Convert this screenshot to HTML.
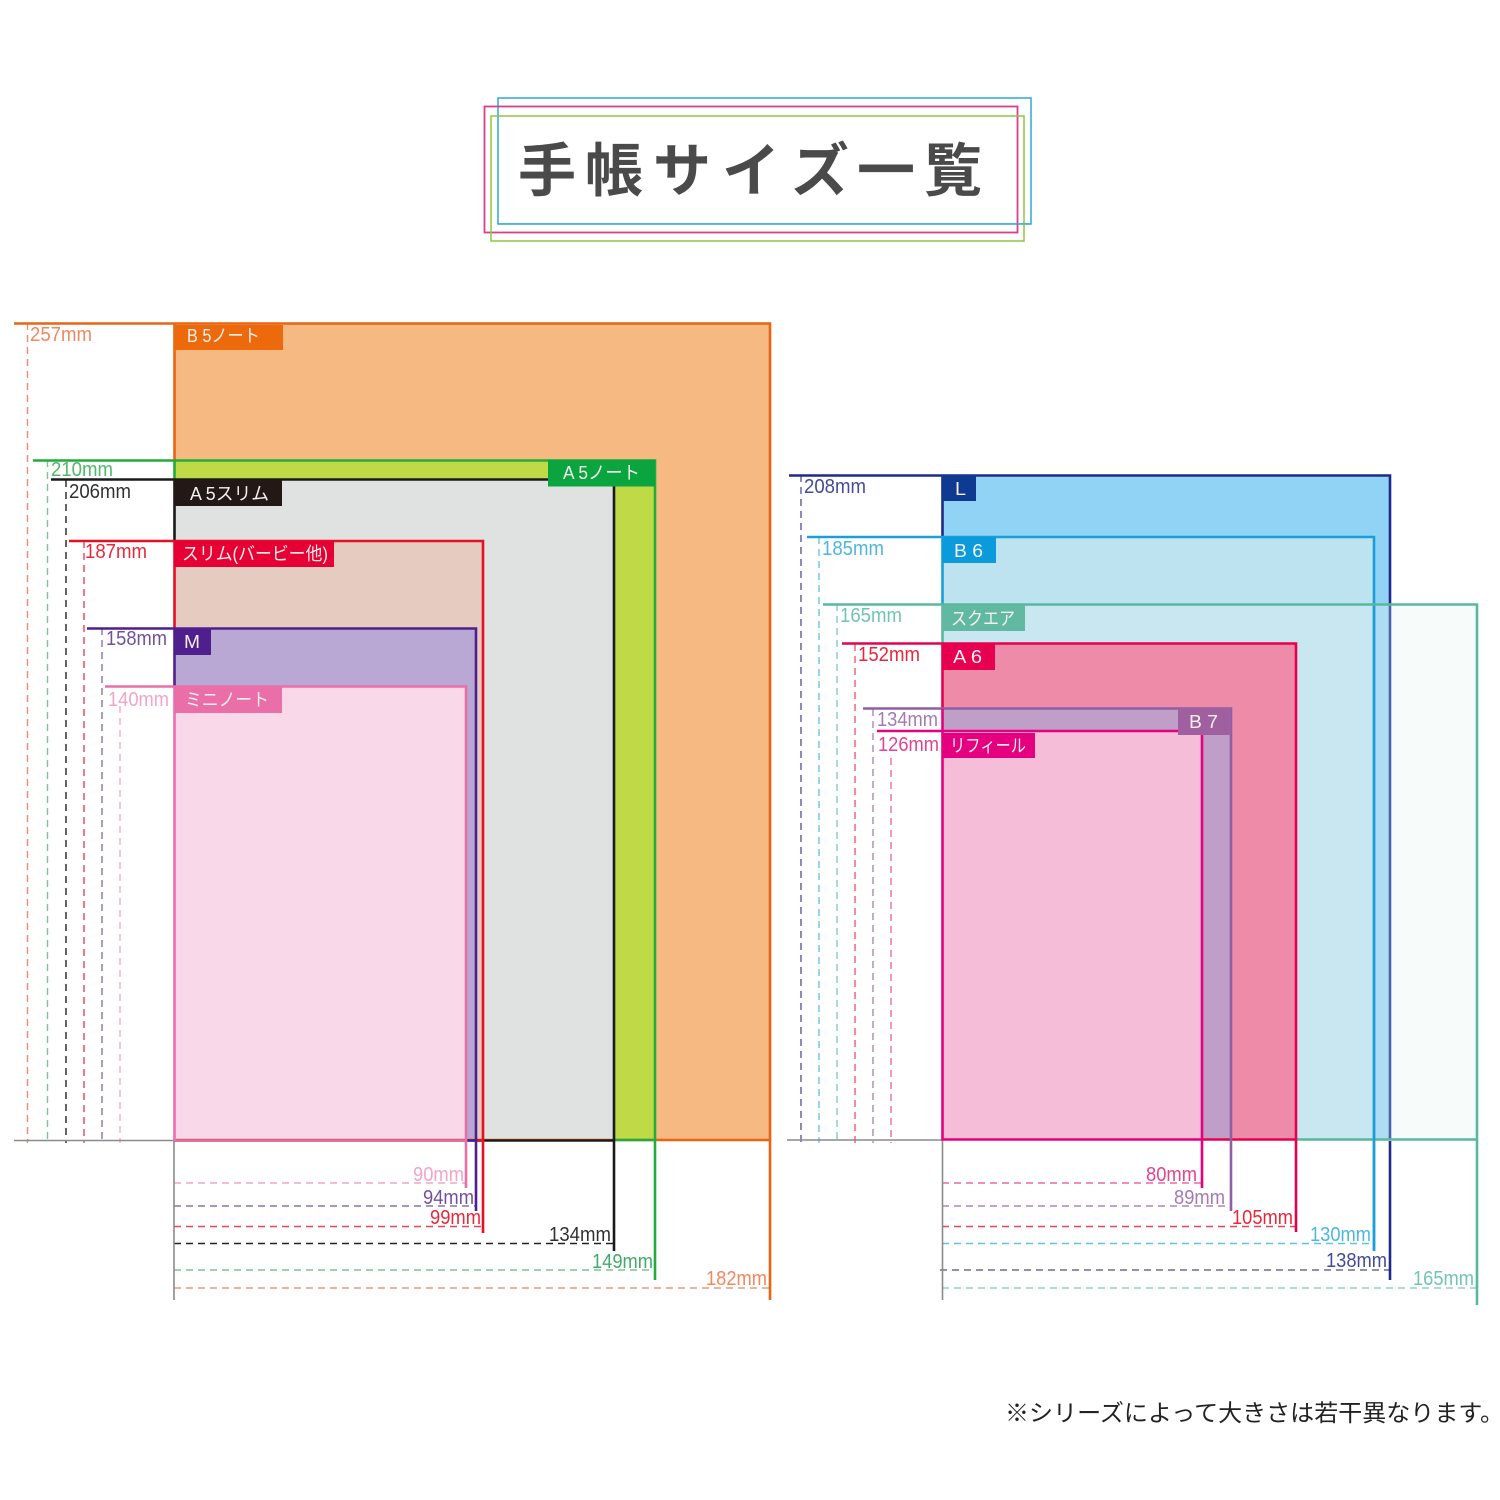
<!DOCTYPE html>
<html lang="ja"><head><meta charset="utf-8"><title>手帳サイズ一覧</title>
<style>
html,body{margin:0;padding:0;background:#fff}
svg{display:block}
text{font-family:"Liberation Sans","Noto Sans CJK JP",sans-serif}
.m{font-size:20.500px;fill-opacity:.9}
.l{font-size:18px;fill:#f5f0ee}
.d{stroke-width:1.4;stroke-dasharray:7 5;fill:none}
.s{stroke-width:2.6;fill:none}
</style></head><body>
<svg xmlns="http://www.w3.org/2000/svg" width="1500" height="1500" viewBox="0 0 1500 1500">
<rect width="1500" height="1500" fill="#fff"/>

<!-- Title -->
<rect x="498" y="98" width="533" height="126" fill="none" stroke="#2fa9d6" stroke-width="1.500"/>
<rect x="484.500" y="106.500" width="533" height="126" fill="none" stroke="#d6408c" stroke-width="1.800"/>
<rect x="491" y="116" width="533" height="125" fill="none" stroke="#8fc63f" stroke-width="1.500"/>
<rect x="498" y="223.300" width="533" height="1" fill="#2fa9d6"/>
<text x="518 585 653 722 791 857 924" y="191" font-size="58" font-weight="700" fill="#4a4a4a">手帳サイズ一覧</text>

<!-- Left group fills -->
<rect x="174.500" y="323.500" width="595" height="816.500" fill="#f6b981"/>
<rect x="174.500" y="460" width="480" height="680" fill="#c0d947"/>
<rect x="174.500" y="479.500" width="439.500" height="660.500" fill="#e0e1e1"/>
<rect x="174.500" y="541" width="308.500" height="599" fill="#e6cbc0"/>
<rect x="174.500" y="628.500" width="301.500" height="511.500" fill="#b9a8d3"/>
<rect x="174.500" y="686.500" width="291.500" height="453.500" fill="#f9d9e9"/>

<!-- Left dashed verticals -->
<path class="d" stroke="#ef8d6a" d="M27.500 323V1143"/>
<path class="d" stroke="#7fc48f" d="M47.500 460V1143"/>
<path class="d" stroke="#222" d="M66 480V1143"/>
<path class="d" stroke="#e8455c" d="M84 541V1143"/>
<path class="d" stroke="#8a72b0" d="M102 628V1143"/>
<path class="d" stroke="#f4aacb" d="M120 706V1143"/>

<!-- Left dashed horizontals -->
<path class="d" stroke="#f4a6c8" d="M174 1183H466"/>
<path class="d" stroke="#8a72b0" d="M174 1206H476"/>
<path class="d" stroke="#e8455c" d="M174 1226.500H483"/>
<path class="d" stroke="#222" d="M174 1243.500H614"/>
<path class="d" stroke="#7fc48f" d="M174 1270H655"/>
<path class="d" stroke="#eb9c78" d="M174 1288H770"/>

<!-- Left baseline -->
<path d="M14 1140.500H174M174 1140V1300" stroke="#8a8a8a" stroke-width="1.600" fill="none"/>

<!-- Left strokes -->
<path class="s" stroke="#ea6413" d="M14 323.500H770V1300M174.500 323.500V460M174 1140H770"/>
<path class="s" stroke="#22ac38" d="M33 460.500H655V1280M174.500 460V480M614 1140H655"/>
<path class="s" stroke="#1a1a1a" d="M51 479.500H614V1251M174.500 480V541M174 1140.500H614"/>
<path class="s" stroke="#e60f25" d="M69 541H483V1233M174.500 541V628M476 1140.500H483"/>
<path class="s" stroke="#4f1f8d" d="M87 628.500H476V1211M174.500 628V686M466 1140.500H476"/>
<path class="s" stroke="#ec6ea8" d="M105 686.500H466V1188M174.500 686V1140.500H466"/>

<!-- Left labels -->
<rect x="174" y="325" width="109" height="25" fill="#ec6a0c"/>
<text class="l" x="187" y="342" textLength="73" lengthAdjust="spacingAndGlyphs">B 5ノート</text>
<rect x="548" y="459.500" width="107" height="27" fill="#0ba540"/>
<text class="l" x="563" y="479" textLength="77" lengthAdjust="spacingAndGlyphs">A 5ノート</text>
<rect x="174" y="480" width="108" height="26" fill="#231815"/>
<text class="l" x="190" y="500" textLength="79" lengthAdjust="spacingAndGlyphs">A 5スリム</text>
<rect x="174" y="541" width="160" height="26" fill="#e60033"/>
<text class="l" x="182" y="560" textLength="146" lengthAdjust="spacingAndGlyphs">スリム(バービー他)</text>
<rect x="174" y="628" width="37" height="27" fill="#4f1f8d"/>
<text class="l" x="184" y="648" textLength="16" lengthAdjust="spacingAndGlyphs">M</text>
<rect x="174" y="687" width="108" height="26" fill="#ea6fa8"/>
<text class="l" x="185" y="706" textLength="84" lengthAdjust="spacingAndGlyphs">ミニノート</text>

<!-- Left mm labels -->
<text class="m" fill="#ef7a4d" x="30" y="341" textLength="62" lengthAdjust="spacingAndGlyphs">257mm</text>
<text class="m" fill="#3cb35a" x="51" y="476" textLength="62" lengthAdjust="spacingAndGlyphs">210mm</text>
<text class="m" fill="#1a1a1a" x="69" y="498" textLength="62" lengthAdjust="spacingAndGlyphs">206mm</text>
<text class="m" fill="#e60f25" x="85" y="558" textLength="62" lengthAdjust="spacingAndGlyphs">187mm</text>
<text class="m" fill="#5f3d97" x="106" y="645" textLength="61" lengthAdjust="spacingAndGlyphs">158mm</text>
<text class="m" fill="#f39ac0" x="108" y="706" textLength="61" lengthAdjust="spacingAndGlyphs">140mm</text>
<text class="m" fill="#f39ac0" x="413" y="1181" textLength="51" lengthAdjust="spacingAndGlyphs">90mm</text>
<text class="m" fill="#5f3d97" x="423" y="1204" textLength="51" lengthAdjust="spacingAndGlyphs">94mm</text>
<text class="m" fill="#e60f25" x="430" y="1224" textLength="51" lengthAdjust="spacingAndGlyphs">99mm</text>
<text class="m" fill="#1a1a1a" x="549" y="1241" textLength="62" lengthAdjust="spacingAndGlyphs">134mm</text>
<text class="m" fill="#2aa35a" x="592" y="1268" textLength="61" lengthAdjust="spacingAndGlyphs">149mm</text>
<text class="m" fill="#ef7a4d" x="706" y="1285" textLength="61" lengthAdjust="spacingAndGlyphs">182mm</text>

<!-- Right group fills -->
<rect x="942.500" y="604.500" width="534.500" height="535" fill="#f7fbfa"/>
<rect x="942.500" y="475.500" width="447" height="664" fill="#91d3f5"/>
<rect x="1374" y="604.500" width="15.500" height="535" fill="#aedcf2"/>
<rect x="942.500" y="537" width="431.500" height="602.500" fill="#bde3f0"/>
<rect x="942.500" y="604.500" width="431.500" height="535" fill="#c9e7f1"/>
<rect x="942.500" y="643.500" width="353.500" height="496" fill="#ee8ba9"/>
<rect x="942.500" y="708.500" width="288.500" height="431" fill="#bf9fc8"/>
<rect x="942.500" y="731" width="259.500" height="408.500" fill="#f5bdd7"/>

<!-- Right dashed verticals -->
<path class="d" stroke="#5a5aa8" d="M801 475V1143"/>
<path class="d" stroke="#6cc5e2" d="M819 537V1143"/>
<path class="d" stroke="#7fcfb8" d="M837 604V1143"/>
<path class="d" stroke="#ee5a70" d="M855 644V1143"/>
<path class="d" stroke="#b084bb" d="M873 709V1143"/>
<path class="d" stroke="#ea6aa8" d="M891 758V1143"/>

<!-- Right dashed horizontals -->
<path class="d" stroke="#ea6aa8" d="M942 1183H1202"/>
<path class="d" stroke="#b084bb" d="M942 1206H1231"/>
<path class="d" stroke="#e8455c" d="M942 1226.500H1296"/>
<path class="d" stroke="#5cc4e6" d="M942 1243.500H1374"/>
<path class="d" stroke="#6a6aa0" d="M940 1270H1390"/>
<path class="d" stroke="#8fd4c0" d="M942 1288H1477"/>

<!-- Right baseline -->
<path d="M787 1140H942M942.500 1140V1300" stroke="#8a8a8a" stroke-width="1.600" fill="none"/>

<!-- Right strokes -->
<path class="s" stroke="#1d2a8c" d="M789 475.500H1390V604M942.500 475V537"/>
<path class="s" stroke="#4d62a8" d="M1390 604V1140"/>
<path class="s" stroke="#1a9fd9" d="M807 537H1374V1251M942.500 537V604"/>
<path class="s" stroke="#56b99e" d="M823 604.500H1477V1305M942.500 604V644M1296 1139.500H1477"/>
<path class="s" stroke="#1a9fd9" d="M1374 606V1251"/>
<path class="s" stroke="#1d2a8c" d="M1390 1141V1280"/>
<path class="s" stroke="#e6004f" d="M842 643.500H1296V1232M942.500 644V709M1202 1139.500H1296"/>
<path class="s" stroke="#915da3" d="M863 708.500H1231V1211"/>
<path class="s" stroke="#e5007f" d="M877 731H1202V1188M942.500 709V1139.500H1202"/>

<!-- Right labels -->
<rect x="942" y="475" width="34" height="26" fill="#0e3a92"/>
<text class="l" x="955" y="495" textLength="11" lengthAdjust="spacingAndGlyphs">L</text>
<rect x="942" y="537" width="54" height="26" fill="#0b9bdc"/>
<text class="l" x="954" y="557" textLength="29" lengthAdjust="spacingAndGlyphs">B 6</text>
<rect x="942" y="605" width="83" height="26" fill="#62b9a2"/>
<text class="l" x="951" y="625" textLength="64" lengthAdjust="spacingAndGlyphs">スクエア</text>
<rect x="942" y="644" width="53" height="26" fill="#e6004f"/>
<text class="l" x="953" y="663" textLength="29" lengthAdjust="spacingAndGlyphs">A 6</text>
<rect x="1178" y="708" width="53" height="27" fill="#a0609f"/>
<text class="l" x="1189" y="728" textLength="29" lengthAdjust="spacingAndGlyphs">B 7</text>
<rect x="942" y="733" width="93" height="25" fill="#e5007f"/>
<text class="l" x="950" y="752" textLength="76" lengthAdjust="spacingAndGlyphs">リフィール</text>

<!-- Right mm labels -->
<text class="m" fill="#2f3590" x="804" y="493" textLength="62" lengthAdjust="spacingAndGlyphs">208mm</text>
<text class="m" fill="#3aaedb" x="822" y="555" textLength="62" lengthAdjust="spacingAndGlyphs">185mm</text>
<text class="m" fill="#62bfa6" x="840" y="622" textLength="62" lengthAdjust="spacingAndGlyphs">165mm</text>
<text class="m" fill="#e60f25" x="858" y="661" textLength="62" lengthAdjust="spacingAndGlyphs">152mm</text>
<text class="m" fill="#9a6ca8" x="877" y="726" textLength="61" lengthAdjust="spacingAndGlyphs">134mm</text>
<text class="m" fill="#df2f85" x="878" y="751" textLength="61" lengthAdjust="spacingAndGlyphs">126mm</text>
<text class="m" fill="#df2f85" x="1146" y="1181" textLength="51" lengthAdjust="spacingAndGlyphs">80mm</text>
<text class="m" fill="#9a6ca8" x="1174" y="1204" textLength="51" lengthAdjust="spacingAndGlyphs">89mm</text>
<text class="m" fill="#e60f25" x="1232" y="1224" textLength="61" lengthAdjust="spacingAndGlyphs">105mm</text>
<text class="m" fill="#3aaedb" x="1310" y="1241" textLength="61" lengthAdjust="spacingAndGlyphs">130mm</text>
<text class="m" fill="#2f3590" x="1326" y="1267" textLength="61" lengthAdjust="spacingAndGlyphs">138mm</text>
<text class="m" fill="#62bfa6" x="1413" y="1285" textLength="61" lengthAdjust="spacingAndGlyphs">165mm</text>

<!-- Footnote -->
<text x="1005" y="1421" font-size="23.500" fill="#222" textLength="499" lengthAdjust="spacingAndGlyphs">※シリーズによって大きさは若干異なります。</text>
</svg>
</body></html>
